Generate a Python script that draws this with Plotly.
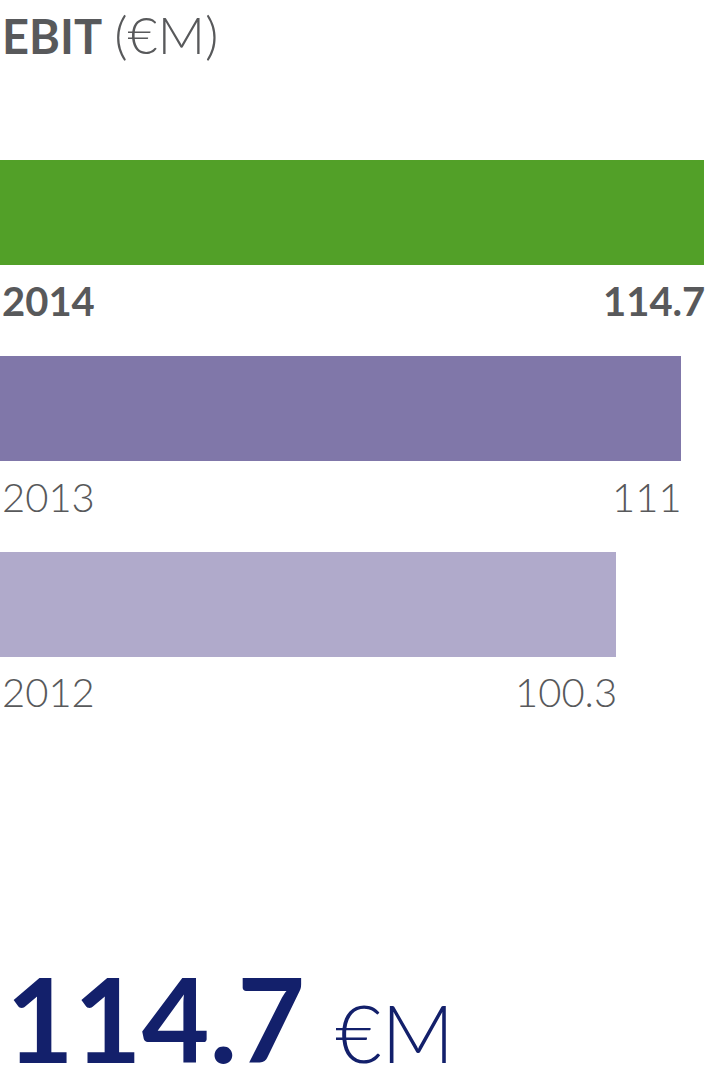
import plotly.graph_objects as go

# data
years = ['2014', '2013', '2012']
ebit = [114.7, 111, 100.3]
value_labels = ['114.7', '111', '100.3']
bar_colors = ['#52a028', '#8077a9', '#b0aacb']
headline_value = '114.7'
headline_unit = '€M'

GREY = '#58595b'
NAVY = '#13206b'

fig = go.Figure()
fig.add_trace(go.Bar(
    x=ebit,
    y=years,
    orientation='h',
    marker=dict(color=bar_colors, line=dict(width=0)),
    width=0.536,
    hoverinfo='skip',
))

annotations = []
for i, (yr, v, lab) in enumerate(zip(years, ebit, value_labels)):
    weight = 700 if i == 0 else 300
    # year label under the bar, left aligned
    annotations.append(dict(
        x=0, xref='paper', y=i, yref='y', text=yr, showarrow=False,
        xanchor='left', yanchor='middle', yshift=-88,
        font=dict(family='Lato', size=40, color=GREY, weight=weight),
    ))
    # value label under the bar end, right aligned
    annotations.append(dict(
        x=v, xref='x', y=i, yref='y', text=lab, showarrow=False,
        xanchor='right', yanchor='middle', yshift=-88, xshift=3,
        font=dict(family='Lato', size=40, color=GREY, weight=weight),
    ))

# title, pinned to the top edge of the page
annotations.append(dict(
    x=0, xref='paper', y=1 + 114.5 / 588, yref='paper', showarrow=False,
    xanchor='left', yanchor='top',
    text='<b>EBIT</b> <span style="font-size:52px;font-weight:300">(€M)</span>',
    font=dict(family='Lato', size=47, color=GREY),
))

# headline figure
annotations.append(dict(
    x=0, xref='paper', y=-0.538, yref='paper', showarrow=False,
    xanchor='left', yanchor='middle', xshift=4,
    text='<b>' + headline_value + '</b>&nbsp;'
         + '<span style="font-size:80px;font-weight:300">' + headline_unit + '</span>',
    font=dict(family='Lato', size=117, color=NAVY),
))

fig.update_layout(
    width=707,
    height=1089,
    margin=dict(l=0, r=3, t=114.5, b=386.5),
    paper_bgcolor='white',
    plot_bgcolor='white',
    showlegend=False,
    bargap=0,
    xaxis=dict(range=[0, 114.7], visible=False, fixedrange=True),
    yaxis=dict(type='category', categoryorder='array', categoryarray=years,
               range=[2.5, -0.5], visible=False, fixedrange=True),
    annotations=annotations,
)

fig.write_html('out.html', config={'displayModeBar': False},
               post_script="document.body.style.margin='0';")
